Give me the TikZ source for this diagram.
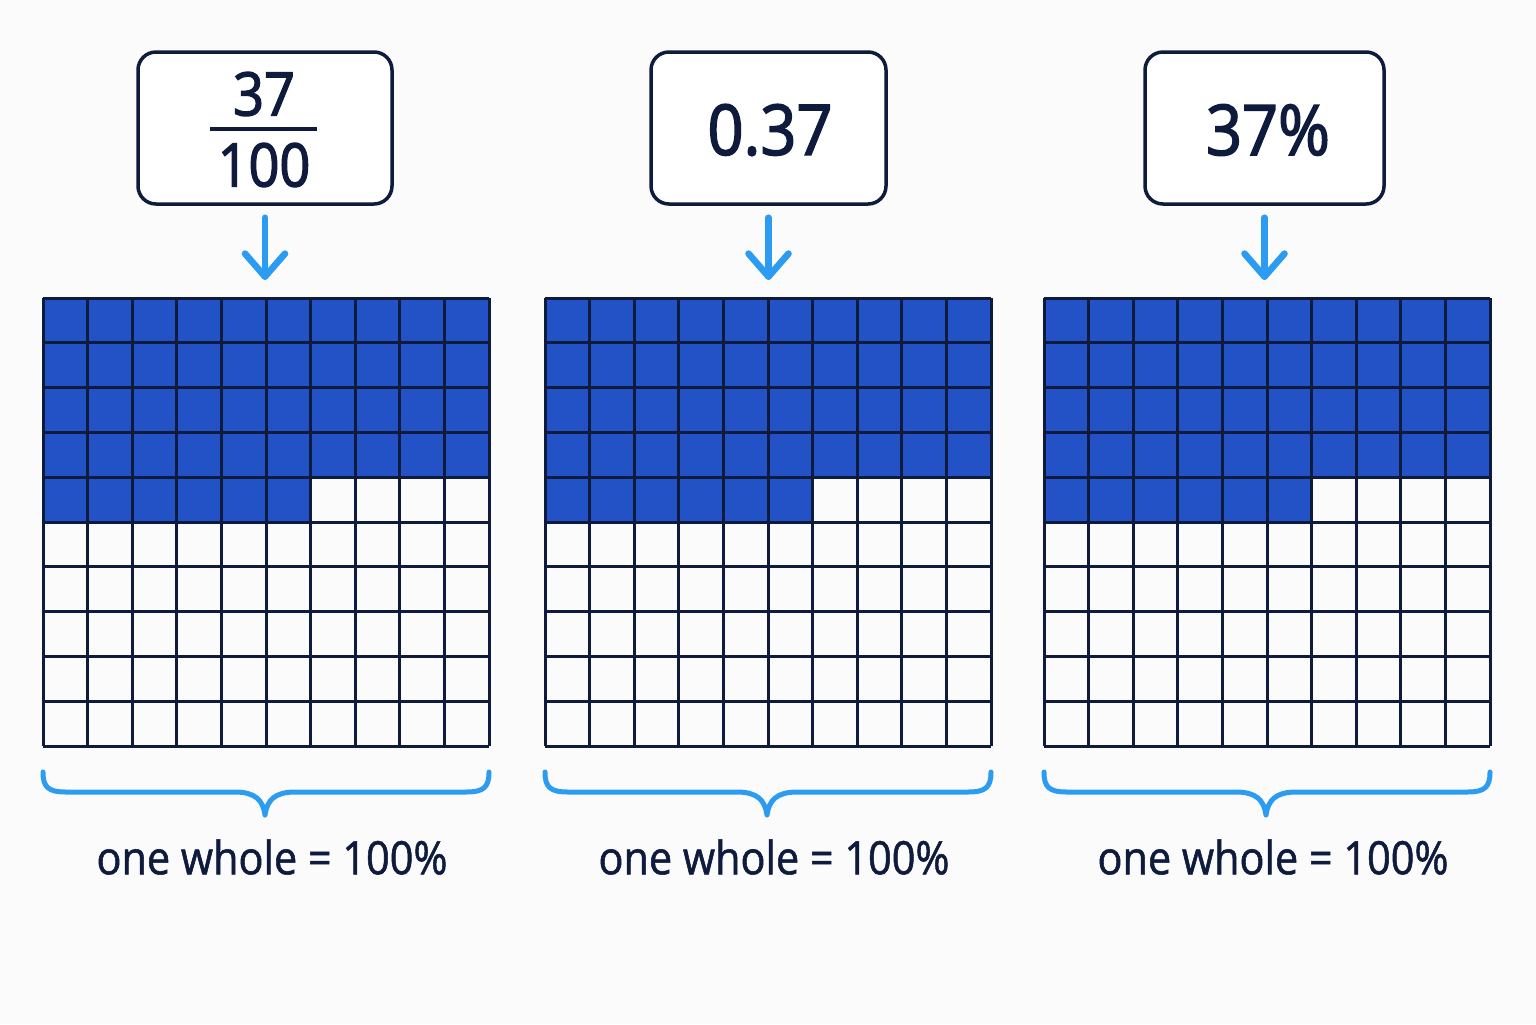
\documentclass[tikz,border=0pt]{standalone}
\usepackage{fontspec}
\setmainfont{Open Sans}
\newfontfamily\labfont[FakeStretch=0.9,FakeBold=1.2]{Open Sans}
\newfontfamily\numfont[FakeStretch=0.9,FakeBold=2.2]{Open Sans}
\usetikzlibrary{calc}
\definecolor{ink}{HTML}{0F1B3D}
\definecolor{cellblue}{HTML}{2352C6}
\definecolor{sky}{HTML}{2B9CF2}
\definecolor{bg}{HTML}{FBFBFC}
\begin{document}
\begin{tikzpicture}[x=0.5pt,y=-0.5pt,
  valbox/.style={draw=ink,line width=1.75pt,rounded corners=9pt,fill=white,
    minimum height=76pt,inner sep=0pt,text=ink},
  bignum/.style={text=ink,inner sep=0pt,font=\numfont\fontsize{35}{40}\selectfont},
  fracnum/.style={text=ink,inner sep=0pt,font=\numfont\fontsize{30}{34}\selectfont},
  lab/.style={text=ink,inner sep=0pt,font=\labfont\fontsize{23}{26}\selectfont},
  gridline/.style={draw=ink,line width=1.5pt},
  skyline/.style={draw=sky,line width=2.5pt,line cap=round,line join=round},
  arrowline/.style={draw=sky,line width=3.3pt,line cap=round,line join=round},
  gridarea/.style={minimum width=223pt,minimum height=224pt,inner sep=0pt,draw=none}
]
\fill[bg] (0,0) rectangle (1536,1024);
\useasboundingbox (0,0) rectangle (1536,1024);

% value boxes
\node[valbox,minimum width=127pt] (b1) at (265,128) {};
\node[valbox,minimum width=117.5pt] (b2) at (768.5,128) {};
\node[valbox,minimum width=119.5pt] (b3) at (1264.5,128) {};

\node[fracnum] (n37) at (264,94) {37};
\draw[ink,line width=1.6pt] (210,129) -- (317,129);
\node[fracnum] (n100) at (264,165) {100};
\node[bignum] (v2) at (770,130) {0.37};
\node[bignum] (v3) at (1268,130) {37\%};

\foreach \X/\n in {43/1,545/2,1044/3}{
  \node[gridarea] (g\n) at ({\X+223},522) {};
  % blue cells
  \fill[cellblue] (\X,298) rectangle ({\X+446},477);
  \fill[cellblue] (\X,477) rectangle ({\X+268},522);
  % grid lines
  \foreach \i in {0,...,10}{
    \draw[gridline] ({\X+\i*44.6},298) -- ({\X+\i*44.6},746);
    \draw[gridline] (\X,{298+\i*44.8}) -- ({\X+446},{298+\i*44.8});
  }
  % brace
  \draw[skyline] (\X,772) .. controls (\X,787) and ({\X+5},792) .. ({\X+23},792)
     -- ({\X+192},792) .. controls ({\X+212},792) and ({\X+220},800) .. ({\X+222},815)
     .. controls ({\X+224},800) and ({\X+232},792) .. ({\X+252},792)
     -- ({\X+423},792) .. controls ({\X+441},792) and ({\X+446},787) .. ({\X+446},772);
  \node[lab] (l\n) at ({\X+229},857) {one whole = 100\%};
}

% arrows from boxes to grids
\foreach \n in {1,2,3}{
  \coordinate (s\n) at ($(b\n.south)+(0,12)$);
  \coordinate (e\n) at ($(b\n.south |- g\n.north)+(0,-21)$);
  \draw[arrowline] (s\n) -- (e\n);
  \draw[arrowline] ($(e\n)+(-20,-23)$) -- (e\n) -- ($(e\n)+(20,-23)$);
}
\end{tikzpicture}
\end{document}
